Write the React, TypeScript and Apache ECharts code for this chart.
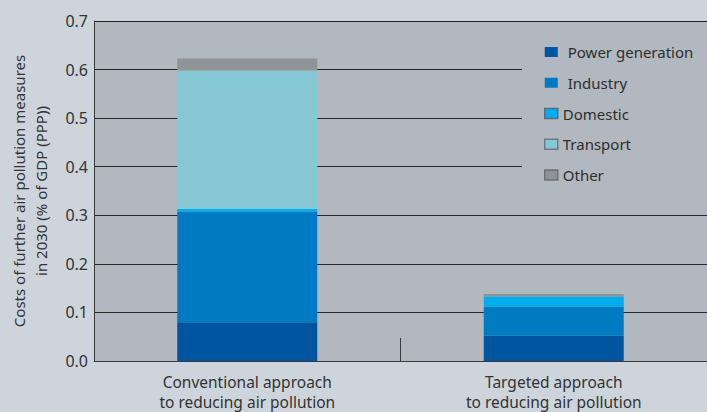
import React, { useEffect, useRef } from "react";
import * as echarts from "echarts";

const categories = ["Conventional approach\nto reducing air pollution", "Targeted approach\nto reducing air pollution"];
const seriesNames = ["Power generation", "Industry", "Domestic", "Transport", "Other"];
const powerGeneration = [0.08, 0.052];
const industry = [0.228, 0.06];
const domestic = [0.005, 0.021];
const transport = [0.285, 0];
const other = [0.025, 0.005];
const yTicks = [0, 0.1, 0.2, 0.3, 0.4, 0.5, 0.6, 0.7];

const colors = ["#0055a0", "#007ac0", "#00aeef", "#86c8d5", "#8f9396"];
const borders = [null, null, "#5a6a78", "#6f7b84", "#6d7176"];
const FONT = "Noto Sans";

export default function App() {
  const ref = useRef<HTMLDivElement>(null);
  useEffect(() => {
    const chart = echarts.init(ref.current!, null, { renderer: "svg" });
    const values = [powerGeneration, industry, domestic, transport, other];
    chart.setOption({
      animation: false,
      backgroundColor: "#cdd4db",
      textStyle: { fontFamily: FONT },
      grid: {
        left: 90,
        right: -5,
        top: 21,
        bottom: 50,
        show: true,
        backgroundColor: "#b2b8bf",
        borderWidth: 0,
      },
      legend: {
        orient: "vertical",
        left: 522,
        top: 30,
        backgroundColor: "#b2b8bf",
        padding: [14, 60, 17, 22],
        itemWidth: 13,
        itemHeight: 10,
        itemGap: 14.75,
        borderRadius: 0,
        textStyle: { fontFamily: FONT, fontSize: 15, color: "#2e2e2e", lineHeight: 16 },
        data: seriesNames.map((n, i) => ({
          name: n,
          icon: "rect",
          itemStyle: borders[i]
            ? { color: colors[i], borderColor: borders[i], borderWidth: 1.5 }
            : { color: colors[i], borderWidth: 0 },
          textStyle: i < 2 ? { padding: [0, 0, 0, 5] } : {},
        })),
      },
      xAxis: {
        type: "category",
        data: categories,
        axisLine: { show: true, lineStyle: { color: "#3a3a3a", width: 1 } },
        axisTick: { show: true, inside: true, length: 23, lineStyle: { color: "#3a3a3a", width: 1 } },
        axisLabel: { fontFamily: FONT, fontSize: 15.5, color: "#333", lineHeight: 20, margin: 11 },
        z: 5,
      },
      yAxis: {
        type: "value",
        min: yTicks[0],
        max: yTicks[yTicks.length - 1],
        interval: 0.1,
        name: "Costs of further air pollution measures\nin 2030 (% of GDP (PPP))",
        nameLocation: "middle",
        nameGap: 42,
        nameTextStyle: { fontFamily: FONT, fontSize: 15, color: "#333", lineHeight: 22 },
        axisLine: { show: true, lineStyle: { color: "#3a3a3a", width: 1 } },
        axisTick: { show: false },
        axisLabel: {
          fontFamily: FONT,
          fontSize: 16,
          color: "#333",
          margin: 6,
          formatter: (v: number) => v.toFixed(1),
        },
        splitLine: { show: true, lineStyle: { color: "#262626", width: 1 } },
      },
      series: seriesNames.map((n, i) => ({
        name: n,
        type: "bar",
        stack: "total",
        barWidth: 140,
        itemStyle: { color: colors[i] },
        data: values[i],
      })),
    });
    return () => chart.dispose();
  }, []);
  return <div ref={ref} style={{ width: 707, height: 412, position: "absolute", left: 0, top: 0 }} />;
}
